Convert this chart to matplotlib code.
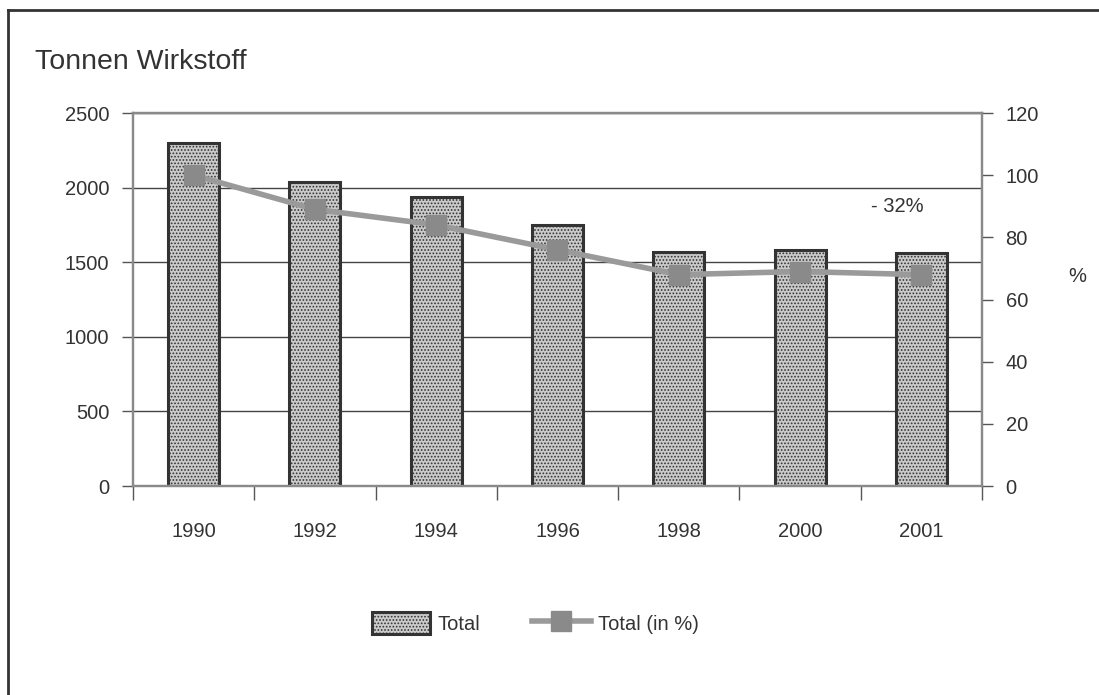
import matplotlib
matplotlib.use('Agg')
import matplotlib.pyplot as plt
from matplotlib.lines import Line2D
from matplotlib.patches import Patch

plt.rcParams['font.family'] = ['Liberation Sans', 'DejaVu Sans']
plt.rcParams['hatch.color'] = '#9a9a9a'
plt.rcParams['hatch.linewidth'] = 0.8

years = ['1990', '1992', '1994', '1996', '1998', '2000', '2001']
tonnes = [2300, 2040, 1935, 1750, 1570, 1580, 1565]
percent = [100, 89, 84, 76, 68, 69, 68]

text_color = '#333333'
fs = 14.5

fig = plt.figure(figsize=(10.99, 6.95), dpi=100)
ax = fig.add_axes([0.121, 0.3007, 0.7725, 0.5367])
ax2 = ax.twinx()

x = list(range(len(years)))
ax.bar(x, tonnes, width=0.42, facecolor='#cacaca', edgecolor='#333333',
       linewidth=2.2, hatch='.....', zorder=2)
ax.set_axisbelow(True)
ax.set_ylim(0, 2500)
ax.set_xlim(-0.5, len(years) - 0.5)
ax.set_yticks([0, 500, 1000, 1500, 2000, 2500])
ax.yaxis.grid(True, color='#444444', linewidth=1)

# year labels sit in the middle of each slot, ticks mark the slot borders
ax.set_xticks([i - 0.5 for i in range(len(years) + 1)])
ax.set_xticklabels([])
ax.set_xticks(x, minor=True)
ax.set_xticklabels(years, minor=True)
ax.tick_params(axis='x', which='major', direction='out', length=10, width=1, color='#555555')
ax.tick_params(axis='x', which='minor', length=0, pad=26, labelsize=fs, labelcolor=text_color)
ax.tick_params(axis='y', direction='out', length=8, width=1, color='#555555',
               pad=9, labelsize=fs, labelcolor=text_color)

ax2.plot(x, percent, color='#9a9a9a', linewidth=4, marker='s', markersize=14.5,
         markerfacecolor='#8a8a8a', markeredgecolor='#8a8a8a', zorder=3)
ax2.set_ylim(0, 120)
ax2.set_yticks([0, 20, 40, 60, 80, 100, 120])
ax2.tick_params(axis='y', direction='out', length=8, width=1, color='#555555',
                pad=9, labelsize=fs, labelcolor=text_color)
ax2.text(5.8, 90, '- 32%', ha='center', va='center', fontsize=fs, color=text_color)

for a in (ax, ax2):
    for side in ('left', 'right', 'top', 'bottom'):
        a.spines[side].set_color('#8a8a8a')
        a.spines[side].set_linewidth(1.6)

fig.text(35 / 1099, 1 - 62 / 695, 'Tonnen Wirkstoff', fontsize=20.5, color=text_color,
         va='center', ha='left')
fig.text(1077 / 1099, 1 - 277 / 695, '%', fontsize=fs, color=text_color,
         va='center', ha='center')

handles = [
    Patch(facecolor='#cacaca', edgecolor='#333333', linewidth=2.2, hatch='.....'),
    Line2D([], [], color='#9a9a9a', linewidth=4, marker='s', markersize=14.5,
           markerfacecolor='#8a8a8a', markeredgecolor='#8a8a8a'),
]
fig.legend(handles, ['Total', 'Total (in %)'], loc='center',
           bbox_to_anchor=(535 / 1099, 1 - 623 / 695), ncol=2, frameon=False,
           fontsize=fs, labelcolor=text_color, handlelength=2.9, handleheight=1.35,
           handletextpad=0.35, columnspacing=2.6)

# outer frame: only left and top edges fall inside the canvas
fig.add_artist(Line2D([8 / 1099, 8 / 1099], [0, 1 - 10 / 695], transform=fig.transFigure,
                      color='#333333', linewidth=2))
fig.add_artist(Line2D([8 / 1099, 1], [1 - 10 / 695, 1 - 10 / 695], transform=fig.transFigure,
                      color='#333333', linewidth=2))

fig.savefig('out.png', dpi=100)
